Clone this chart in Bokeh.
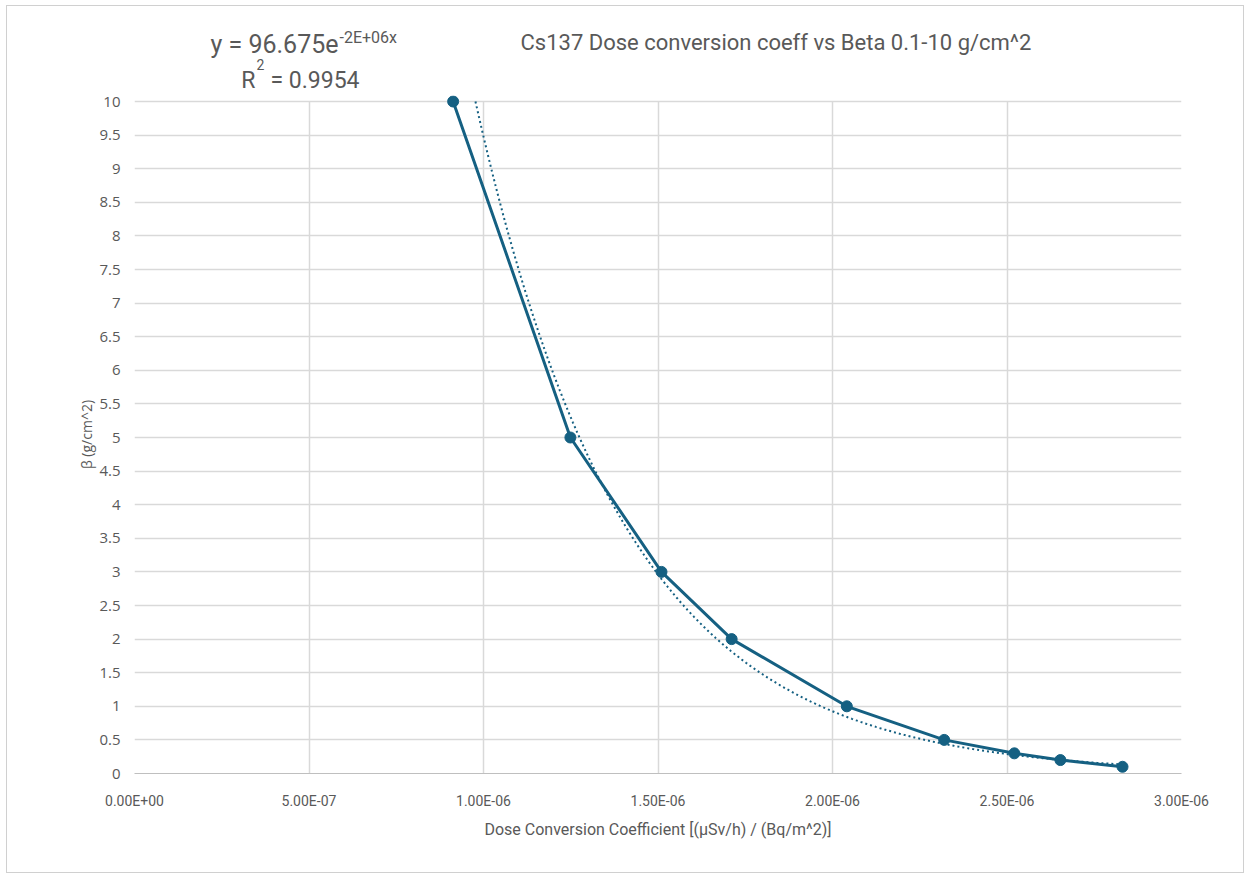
import numpy as np
from bokeh.plotting import figure
from bokeh.layouts import column
from bokeh.models import FixedTicker, Range1d
from bokeh.core.properties import value
from bokeh.embed import file_html
from bokeh.resources import INLINE

# ---- data ----
dose_coeff = [0.913e-6, 1.249e-6, 1.510e-6, 1.711e-6, 2.041e-6, 2.320e-6, 2.521e-6, 2.653e-6, 2.831e-6]
beta = [10, 5, 3, 2, 1, 0.5, 0.3, 0.2, 0.1]

x_ticks = [0, 5e-7, 1e-6, 1.5e-6, 2e-6, 2.5e-6, 3e-6]
x_tick_labels = ["0.00E+00", "5.00E-07", "1.00E-06", "1.50E-06", "2.00E-06", "2.50E-06", "3.00E-06"]
y_ticks = [0, 0.5, 1, 1.5, 2, 2.5, 3, 3.5, 4, 4.5, 5, 5.5, 6, 6.5, 7, 7.5, 8, 8.5, 9, 9.5, 10]
y_tick_labels = ["0", "0.5", "1", "1.5", "2", "2.5", "3", "3.5", "4", "4.5", "5", "5.5",
                 "6", "6.5", "7", "7.5", "8", "8.5", "9", "9.5", "10"]

title_text = "Cs137 Dose conversion coeff vs Beta 0.1-10 g/cm^2"
x_label = "Dose Conversion Coefficient [(\u03bcSv/h) / (Bq/m^2)]"
y_label = "\u03b2 (g/cm^2)"
eq_main = "y = 96.675e"
eq_exp = "-2E+06x"
r2_main = "R"
r2_sup = "2"
r2_value = "= 0.9954"

x_min, x_max = x_ticks[0], x_ticks[-1]
y_min, y_max = y_ticks[0], y_ticks[-1]

# exponential trendline (least squares on log y, as Excel does), clipped at the axis maximum
k, lnA = np.polyfit(np.array(dose_coeff), np.log(np.array(beta)), 1)
x_at_ymax = (np.log(y_max) - lnA) / k
tx = np.linspace(max(min(dose_coeff), x_at_ymax), max(dose_coeff), 300)
ty = np.exp(lnA) * np.exp(k * tx)

COLOR = "#156082"
GRID = "#d9d9d9"
TXT = "#595959"
FONT = "Roboto"
W = 1236
HEAD_H = 89
BL, BR, BB = 127, 62, 99
PLOT_H = 672          # pixel height of the 0..10 span
TOP_PAD = 6           # extra pixels above the top gridline so the top marker is not clipped

# ---- header (title + trendline equation); frame aligned with the chart frame,
#      data units = pixels from the header's top-left corner ----
h = figure(width=W, height=HEAD_H, output_backend="svg", toolbar_location=None,
           x_range=Range1d(BL, W - BR), y_range=Range1d(HEAD_H, 0),
           min_border=0, min_border_left=BL, min_border_right=BR,
           x_axis_location=None, y_axis_location=None)
h.grid.visible = False
h.outline_line_color = None
h.border_fill_color = "white"


def txt(x, y, s, size, align="left"):
    h.text(x=[x], y=[y], text=[s], text_font=value(FONT), text_font_size=size,
           text_color=TXT, text_baseline="middle", text_align=align)


txt(513, 36, title_text, "22px")
txt(331, 38, eq_main, "25px", "right")
txt(332, 31, eq_exp, "16px")
txt(248, 74, r2_main, "23px", "right")
txt(249, 58, r2_sup, "14px")
txt(263, 74, r2_value, "23px")

# ---- main chart ----
p = figure(width=W, height=TOP_PAD + PLOT_H + BB, output_backend="svg", toolbar_location=None,
           x_range=Range1d(x_min, x_max),
           y_range=Range1d(y_min, y_max + (y_max - y_min) * TOP_PAD / PLOT_H),
           min_border_left=BL, min_border_right=BR, min_border_top=0, min_border_bottom=BB)
p.outline_line_color = None
p.background_fill_color = "white"
p.border_fill_color = "white"

p.xaxis.ticker = FixedTicker(ticks=x_ticks)
p.yaxis.ticker = FixedTicker(ticks=y_ticks)
p.xaxis.major_label_overrides = {t: l for t, l in zip(x_ticks, x_tick_labels)}
p.yaxis.major_label_overrides = {t: l for t, l in zip(y_ticks, y_tick_labels)}

for ax in (p.xaxis, p.yaxis):
    ax.major_tick_line_color = None
    ax.minor_tick_line_color = None
    ax.major_label_text_color = TXT
    ax.axis_label_text_color = TXT
    ax.axis_label_text_font_style = "normal"

p.xaxis.axis_line_color = "#bfbfbf"
p.xaxis.axis_line_width = 1
p.yaxis.axis_line_color = None
p.xaxis.major_label_text_font = FONT
p.xaxis.major_label_text_font_size = "14px"
p.xaxis.major_label_standoff = 13
p.xaxis.axis_label = x_label
p.xaxis.axis_label_text_font = FONT
p.xaxis.axis_label_text_font_size = "16px"
p.xaxis.axis_label_standoff = 8

p.yaxis.major_label_text_font = "Open Sans"
p.yaxis.major_label_text_font_size = "15px"
p.yaxis.major_label_standoff = 8
p.yaxis.axis_label = y_label
p.yaxis.axis_label_text_font = "Open Sans"
p.yaxis.axis_label_text_font_size = "14px"
p.yaxis.axis_label_standoff = 0

p.xgrid.grid_line_color = GRID
p.ygrid.grid_line_color = GRID
p.xgrid.grid_line_width = 1.5
p.ygrid.grid_line_width = 1.5
try:
    p.xgrid.cross_bounds = (y_min, y_max)
except Exception:
    pass

p.line(tx, ty, line_color=COLOR, line_width=2, line_dash="2 3")
p.line(dose_coeff, beta, line_color=COLOR, line_width=3)
p.scatter(dose_coeff, beta, size=11, fill_color=COLOR, line_color=COLOR)

layout = column(h, p, spacing=0,
                styles={"margin-left": "6px", "margin-top": "5px", "border": "1px solid #d0d0d0",
                        "background-color": "white"})

open("out.html", "w").write(file_html(layout, INLINE))
